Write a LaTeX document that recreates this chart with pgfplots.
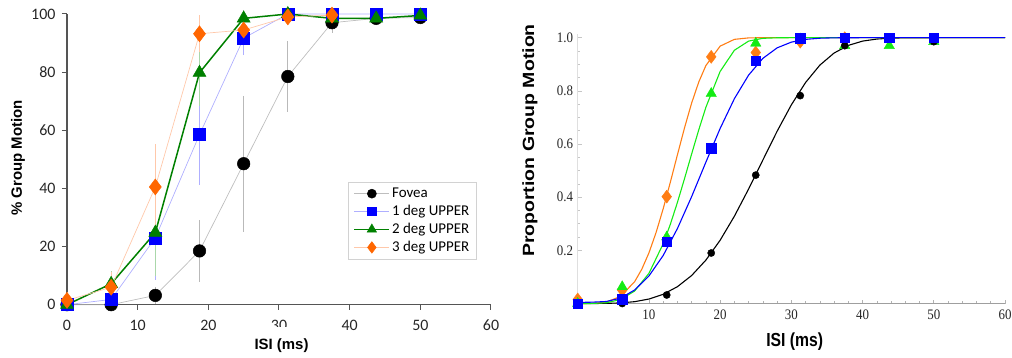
\documentclass[border=0pt]{standalone}
\usepackage{pgfplots}
\pgfplotsset{compat=1.18}
\usepackage{pgfplotstable}
\usepackage{fontspec}
\setmainfont{Liberation Sans}
\newfontfamily\carlito{Carlito}
\newfontfamily\lserif{Liberation Serif}
\newfontfamily\lsans{Liberation Sans}
\definecolor{fovline}{RGB}{190,190,190}
\definecolor{bluline}{RGB}{175,175,255}
\definecolor{grnmark}{RGB}{0,128,0}
\definecolor{grnerr}{RGB}{170,215,170}
\definecolor{ormark}{RGB}{255,102,0}
\definecolor{orline}{RGB}{255,200,170}
\definecolor{axgray}{RGB}{85,85,85}
\definecolor{rblue}{RGB}{0,0,255}
\definecolor{rgreen}{RGB}{20,235,20}
\definecolor{rorange}{RGB}{255,125,20}

% left chart data: x, y (%), error
\pgfplotstableread{
x y e
0 0 0
6.25 0 0
12.5 3.2 1.5
18.75 18.5 9.2
25 48.5 22
31.25 78.5 10.8
37.5 97 2
43.75 98.5 1
50 98.8 1
}\fovL
\pgfplotstableread{
x y e
0 0 0
6.25 1.8 2
12.5 23 13
18.75 58.5 16
25 91.7 4.5
31.25 100 0
37.5 100 0
43.75 100 0
50 100 0
}\oneL
\pgfplotstableread{
x y e
0 0 0
6.25 7.2 3
12.5 24.8 13.5
18.75 79.8 10
25 98.5 1.5
31.25 100 0
37.5 98.5 1
43.75 98.5 1
50 99.5 0.5
}\twoL
\pgfplotstableread{
x y e
0 1.5 1.5
6.25 6 4
12.5 40.5 13.4
18.75 93.2 5
25 94.5 3
31.25 99 1
37.5 99.6 0.5
}\threeL

% right chart data points
\pgfplotstableread{
x y
6.25 0
12.5 0.032
18.75 0.19
25 0.483
31.25 0.782
37.5 0.97
43.75 0.995
50 0.985
}\fovR
\pgfplotstableread{
x y
0 0
6.25 0.016
12.5 0.232
18.75 0.584
25 0.913
31.25 0.998
37.5 1.0
43.75 1.0
50 1.0
}\oneR
\pgfplotstableread{
x y
0 0
6.25 0.063
12.5 0.25
18.75 0.79
25 0.979
31.25 0.995
37.5 0.97
43.75 0.97
50 0.985
}\twoR
\pgfplotstableread{
x y
0 0.015
6.25 0.05
12.5 0.402
18.75 0.928
25 0.944
31.25 0.985
37.5 0.998
}\threeR

% right chart fitted curves
\pgfplotstableread{
x y
0 0
2 0
4 0.0004
6 0.0022
8 0.0069
10 0.0168
12 0.0346
14 0.0632
16 0.1053
18 0.1633
20 0.2380
22 0.3283
24 0.4308
26 0.5398
28 0.6480
30 0.7473
32 0.8315
34 0.8967
36 0.9423
38 0.9710
40 0.9871
42 0.9949
44 0.9983
46 0.9995
50 1.0
60 1.0
}\fovC
\pgfplotstableread{
x y
0 0.004
2 0.005
4 0.0075
6 0.0200
8 0.0509
10 0.1034
12 0.1805
14 0.2819
16 0.4022
18 0.5318
20 0.6585
22 0.7705
24 0.8593
26 0.9222
28 0.9617
30 0.9833
32 0.9937
34 0.9980
36 0.9995
40 1.0
60 1.0
}\oneC
\pgfplotstableread{
x y
0 0
2 0.0002
4 0.0028
6 0.0147
8 0.0470
10 0.1134
12 0.2245
13 0.2974
14 0.3801
15 0.4699
16 0.5626
17 0.6535
18 0.7382
20 0.8731
22 0.9527
24 0.9872
26 0.9976
28 0.9997
30 1.0
60 1.0
}\twoC
\pgfplotstableread{
x y
0 0
2 0.0003
4 0.0052
6 0.0266
8 0.0823
9 0.1290
10 0.1903
11 0.2666
12 0.3561
13 0.4555
14 0.5592
15 0.6610
16 0.7543
17 0.8333
18 0.8952
20 0.9682
22 0.9937
24 0.9992
26 1.0
60 1.0
}\threeC

\begin{document}
\begin{tikzpicture}
\useasboundingbox (0,0) rectangle (1012bp,358bp);
% ---------------- left chart ----------------
\begin{axis}[
  at={(67bp,53.3bp)}, anchor=south west,
  scale only axis, width=424bp, height=290.7bp,
  xmin=0, xmax=60, ymin=0, ymax=100,
  axis x line*=bottom, axis y line*=left,
  axis line style={draw=axgray, line width=1.3bp},
  xtick={0,10,...,60}, ytick={0,20,...,100},
  tick align=outside, major tick length=5bp,
  tick style={draw=axgray, line width=1bp},
  /pgf/number format/assume math mode=true,
  tick label style={font=\carlito\fontsize{16}{18}\selectfont, text=black!85},
  xticklabel style={yshift=-7bp},
  yticklabel style={xshift=-3bp},
  xlabel={ISI (ms)},
  xlabel style={font=\lsans\bfseries\fontsize{15}{17}\selectfont, at={(axis description cs:0.506,0)}, anchor=center, yshift=-40.5bp, fill=white, inner ysep=11bp, inner xsep=8bp},
  ylabel={\% Group Motion},
  ylabel style={font=\lsans\bfseries\fontsize{15}{17}\selectfont, at={(axis description cs:-0.1156,0.505)}, anchor=center},
  legend style={at={(axis description cs:0.966,0.423)}, anchor=north east, draw=gray!35, line width=0.8bp, font=\carlito\fontsize{15}{17}\selectfont, row sep=2.2bp, inner xsep=5bp, inner ysep=4bp},
  legend cell align=left,
  legend image code/.code={\draw[mark repeat=2,mark phase=2, /tikz/every mark/.append style={scale=0.72}] plot coordinates {(0bp,0bp) (17.5bp,0bp) (35bp,0bp)};},
  clip=false,
]
\addplot[draw=fovline, line width=0.7bp, mark=*, mark size=6.3bp, mark options={fill=black, draw=black, line width=0.5bp},
  error bars/.cd, y dir=both, y explicit, error mark=-, error mark options={mark size=4bp, draw=gray!55, line width=0.7bp}, error bar style={draw=gray!55, line width=0.7bp}]
  table[x=x, y=y, y error=e] {\fovL};
\addlegendentry{Fovea}
\addplot[draw=bluline, line width=0.7bp, mark=square*, mark size=6bp, mark options={fill=blue, draw=blue, line width=0.5bp},
  error bars/.cd, y dir=both, y explicit, error mark=-, error mark options={mark size=4bp, draw=bluline, line width=0.7bp}, error bar style={draw=bluline, line width=0.7bp}]
  table[x=x, y=y, y error=e] {\oneL};
\addlegendentry{1 deg UPPER}
\addplot[draw=grnmark, line width=1.5bp, mark=triangle*, mark size=7.5bp, mark options={fill=grnmark, draw=grnmark, line width=0.5bp},
  error bars/.cd, y dir=both, y explicit, error mark=-, error mark options={mark size=4bp, draw=grnerr, line width=0.7bp}, error bar style={draw=grnerr, line width=0.7bp}]
  table[x=x, y=y, y error=e] {\twoL};
\addlegendentry{2 deg UPPER}
\addplot[draw=orline, line width=0.7bp, mark=diamond*, mark size=8bp, mark options={fill=ormark, draw=ormark, line width=0.5bp},
  error bars/.cd, y dir=both, y explicit, error mark=-, error mark options={mark size=4bp, draw=orline, line width=0.7bp}, error bar style={draw=orline, line width=0.7bp}]
  table[x=x, y=y, y error=e] {\threeL};
\addlegendentry{3 deg UPPER}
\end{axis}
% ---------------- right chart ----------------
\begin{axis}[
  at={(577.7bp,54.5bp)}, anchor=south west,
  scale only axis, width=427.3bp, height=269.8bp,
  xmin=0, xmax=60, ymin=0, ymax=1.015,
  axis x line*=bottom, axis y line*=left,
  x axis line style={draw=gray!75, line width=0.9bp},
  y axis line style={draw=gray!25, line width=1.2bp},
  xtick={10,20,...,60}, ytick={0.2,0.4,0.6,0.8,1.0},
  minor x tick num=4, minor y tick num=3,
  tick align=inside, major tick length=4bp, minor tick length=2.5bp,
  xtick style={draw=gray!60, line width=0.6bp},
  ytick style={draw=gray!45, line width=0.6bp},
  /pgf/number format/assume math mode=true,
  tick label style={font=\lserif\fontsize{13}{15}\selectfont, text=black!85, yscale=1.12},
  yticklabel style={/pgf/number format/fixed, /pgf/number format/fixed zerofill, /pgf/number format/precision=1, xshift=-1bp},
  xticklabel style={yshift=-2bp},
  xlabel={ISI (ms)},
  xlabel style={font=\lsans\bfseries\fontsize{15.8}{18}\selectfont, at={(axis description cs:0.508,0)}, anchor=center, yshift=-38.2bp, yscale=1.2},
  ylabel={Proportion Group Motion},
  ylabel style={font=\lsans\bfseries\fontsize{16.3}{18}\selectfont, at={(axis description cs:-0.1116,0.604)}, anchor=center, xscale=1.2},
  clip=false,
]
\addplot[draw=black, line width=1.1bp, no marks] table[x=x,y=y] {\fovC};
\addplot[draw=rorange, line width=1.1bp, no marks] table[x=x,y=y] {\threeC};
\addplot[draw=rgreen, line width=1.1bp, no marks] table[x=x,y=y] {\twoC};
\addplot[draw=rblue, line width=1.1bp, no marks] table[x=x,y=y] {\oneC};
\addplot[only marks, mark=diamond*, mark size=6.5bp, mark options={fill=rorange, draw=rorange}] table[x=x,y=y] {\threeR};
\addplot[only marks, mark=triangle*, mark size=6bp, mark options={fill=rgreen, draw=rgreen}] table[x=x,y=y] {\twoR};
\addplot[only marks, mark=*, mark size=3.6bp, mark options={fill=black, draw=black}] table[x=x,y=y] {\fovR};
\addplot[only marks, mark=square*, mark size=4.8bp, mark options={fill=rblue, draw=rblue}] table[x=x,y=y] {\oneR};
\end{axis}
\end{tikzpicture}
\end{document}
